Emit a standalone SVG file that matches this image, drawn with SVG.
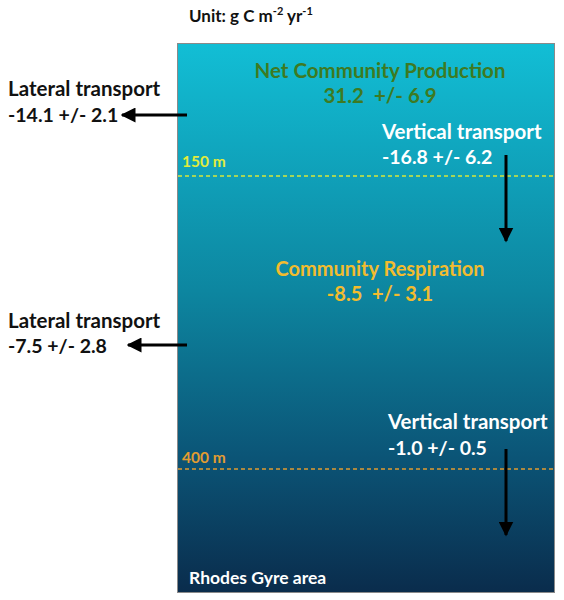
<svg xmlns="http://www.w3.org/2000/svg" width="564" height="600" viewBox="0 0 564 600">
<defs>
<linearGradient id="sea" x1="0" y1="0" x2="0" y2="1">
<stop offset="0" stop-color="#12BED5"/>
<stop offset="0.45" stop-color="#0D86A0"/>
<stop offset="0.75" stop-color="#0B5577"/>
<stop offset="1" stop-color="#0A2C4C"/>
</linearGradient>
<marker id="ah" viewBox="0 0 10 10" refX="9" refY="5" markerWidth="5" markerHeight="5" orient="auto" markerUnits="strokeWidth">
<path d="M0,0 L10,5 L0,10 z" fill="#000"/>
</marker>
<style>
text{font-family:Lato,"Open Sans","Liberation Sans",sans-serif;font-weight:bold}
.lbl{font-size:20.5px;fill:#111}
.wt{font-size:20.5px;fill:#fff}
.num{font-size:19.5px}
.arr{stroke:#000;stroke-width:3;fill:none;marker-end:url(#ah)}
.dash{stroke-width:1.3;stroke-dasharray:4 3;fill:none}
</style>
</defs>
<rect width="564" height="600" fill="#fff"/>
<text x="189" y="22" style="font-size:17px;fill:#111">Unit: g C m<tspan dy="-7" style="font-size:11px">-2</tspan><tspan dy="7"> yr</tspan><tspan dy="-7" style="font-size:11px">-1</tspan></text>
<g id="water">
<rect x="177.5" y="43.5" width="377" height="549" fill="url(#sea)" stroke="#8a8a8a" stroke-width="1"/>
</g>
<g id="depth150">
<line class="dash" x1="178" y1="176" x2="554" y2="176" stroke="#D8E83A"/>
<text x="182" y="167" style="font-size:15.5px;fill:#E2EC3A">150 m</text>
</g>
<g id="depth400">
<line class="dash" x1="178" y1="469" x2="554" y2="469" stroke="#E09A30"/>
<text x="182" y="463" style="font-size:15.5px;fill:#E39C30">400 m</text>
</g>
<g id="ncp">
<text x="380" y="78" text-anchor="middle" style="font-size:20.5px;fill:#3E7A22">Net Community Production</text>
<text x="380" y="103" text-anchor="middle" style="font-size:20.5px;fill:#3E7A22" xml:space="preserve">31.2  +/- 6.9</text>
</g>
<g id="cr">
<text x="380" y="276" text-anchor="middle" style="font-size:20px;fill:#F2BC2E">Community Respiration</text>
<text x="380" y="301" text-anchor="middle" style="font-size:20px;fill:#F2BC2E" xml:space="preserve">-8.5  +/- 3.1</text>
</g>
<g id="lat1">
<text class="lbl" x="8" y="96">Lateral transport</text>
<text class="lbl num" x="8" y="122">-14.1 +/- 2.1</text>
</g>
<g id="lat2">
<text class="lbl" x="8" y="328">Lateral transport</text>
<text class="lbl num" x="8" y="353">-7.5 +/- 2.8</text>
</g>
<g id="vert1">
<text class="wt" x="382" y="139">Vertical transport</text>
<text class="wt num" x="382" y="164">-16.8 +/- 6.2</text>
</g>
<g id="vert2">
<text class="wt" x="388" y="429">Vertical transport</text>
<text class="wt num" x="388" y="455">-1.0 +/- 0.5</text>
</g>
<g id="area">
<text x="189" y="584" style="font-size:17.5px;fill:#fff">Rhodes Gyre area</text>
</g>
<g id="connectors">
<line class="arr" x1="187" y1="115" x2="122" y2="115"/>
<line class="arr" x1="187" y1="345" x2="128" y2="345"/>
<line class="arr" x1="506" y1="155" x2="506" y2="241"/>
<line class="arr" x1="506" y1="449" x2="506" y2="535"/>
</g>
</svg>
